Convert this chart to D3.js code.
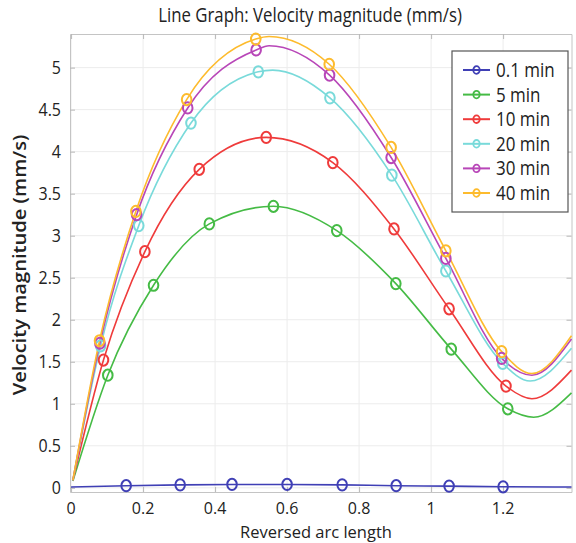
<!DOCTYPE html>
<html>
<head>
<meta charset="utf-8">
<script src="https://cdn.jsdelivr.net/npm/d3@7"></script>
<style>
  body { margin: 0; background: #fff; }
  svg { display: block; font-family: "Open Sans", sans-serif; }
</style>
</head>
<body>
<svg id="chart" width="576" height="543"></svg>
<script>
var seriesNames = ["0.1 min", "5 min", "10 min", "20 min", "30 min", "40 min"];
var seriesColors = ["#3f3fb5", "#45bb45", "#ef3b3b", "#79dada", "#b846b8", "#fdbb2d"];

// marked points per series [x, y]
var marks01 = [[0.153,0.025],[0.303,0.035],[0.447,0.04],[0.6,0.04],[0.753,0.035],[0.903,0.025],[1.05,0.02],[1.2,0.012]];
var marks05 = [[0.102,1.34],[0.229,2.41],[0.384,3.14],[0.562,3.35],[0.738,3.06],[0.902,2.43],[1.056,1.65],[1.213,0.94]];
var marks10 = [[0.09,1.52],[0.205,2.81],[0.356,3.79],[0.542,4.17],[0.727,3.87],[0.897,3.08],[1.05,2.13],[1.208,1.21]];
var marks20 = [[0.082,1.69],[0.188,3.12],[0.333,4.34],[0.52,4.95],[0.719,4.64],[0.891,3.72],[1.041,2.58],[1.199,1.48]];
var marks30 = [[0.08,1.72],[0.182,3.25],[0.324,4.52],[0.514,5.21],[0.718,4.91],[0.889,3.93],[1.041,2.73],[1.196,1.54]];
var marks40 = [[0.079,1.75],[0.18,3.29],[0.321,4.62],[0.513,5.34],[0.717,5.04],[0.889,4.05],[1.041,2.82],[1.196,1.62]];

// extra unmarked points on each curve (start, peak, minimum, end)
var extra01 = [[0,0.01],[1.39,0.01]];
var extra05 = [[0.005,0.08],[1.285,0.84],[1.39,1.13]];
var extra10 = [[0.005,0.09],[1.28,1.06],[1.39,1.40]];
var extra20 = [[0.005,0.09],[0.56,4.97],[1.275,1.27],[1.39,1.66]];
var extra30 = [[0.005,0.09],[0.55,5.26],[1.28,1.34],[1.39,1.77]];
var extra40 = [[0.005,0.09],[0.55,5.37],[1.28,1.36],[1.39,1.81]];

var allMarks = [marks01, marks05, marks10, marks20, marks30, marks40];
var allExtra = [extra01, extra05, extra10, extra20, extra30, extra40];

var xTicks = [0, 0.2, 0.4, 0.6, 0.8, 1, 1.2];
var yTicks = [0, 0.5, 1, 1.5, 2, 2.5, 3, 3.5, 4, 4.5, 5];

var svg = d3.select("#chart");
var stretch = "scale(1,1.15)"; // source image is a bit taller than wide

var x = d3.scaleLinear().domain([-0.003, 1.39]).range([70, 571.5]);
var y = d3.scaleLinear().domain([-0.05, 5.4]).range([492, 34]);

// grid
var grid = svg.append("g");
grid.selectAll(".gx").data(xTicks).enter().append("line")
    .attr("x1", function(d) { return x(d); }).attr("x2", function(d) { return x(d); })
    .attr("y1", y.range()[0]).attr("y2", y.range()[1])
    .attr("stroke", "#ececec").attr("stroke-width", 1);
grid.selectAll(".gy").data(yTicks).enter().append("line")
    .attr("x1", x.range()[0]).attr("x2", x.range()[1])
    .attr("y1", function(d) { return y(d); }).attr("y2", function(d) { return y(d); })
    .attr("stroke", "#ececec").attr("stroke-width", 1);

// frame + inward ticks, labels drawn separately
var gx = svg.append("g").attr("transform", "translate(0," + y.range()[0] + ")")
    .call(d3.axisBottom(x).tickValues(xTicks).tickFormat("").tickSizeInner(-5).tickSizeOuter(0));
var gxTop = svg.append("g").attr("transform", "translate(0," + y.range()[1] + ")")
    .call(d3.axisTop(x).tickValues(xTicks).tickFormat("").tickSizeInner(-5).tickSizeOuter(0));
var gy = svg.append("g").attr("transform", "translate(" + x.range()[0] + ",0)")
    .call(d3.axisLeft(y).tickValues(yTicks).tickFormat("").tickSizeInner(-5).tickSizeOuter(0));
var gyR = svg.append("g").attr("transform", "translate(" + x.range()[1] + ",0)")
    .call(d3.axisRight(y).tickValues(yTicks).tickFormat("").tickSizeInner(-5).tickSizeOuter(0));

[gx, gxTop, gy, gyR].forEach(function(g) {
  g.select(".domain").attr("stroke", "#c4c4c4");
  g.selectAll(".tick line").attr("stroke", "#b8b8b8");
});

svg.append("g").selectAll("text").data(xTicks).enter().append("text")
    .attr("x", function(d) { return x(d); }).attr("y", 508.5)
    .attr("text-anchor", "middle").attr("dy", "0.36em")
    .attr("font-size", 16).attr("fill", "#222")
    .text(function(d) { return String(d); });
svg.append("g").selectAll("text").data(yTicks).enter().append("text")
    .attr("transform", function(d) { return "translate(61," + y(d) + ") " + stretch; })
    .attr("text-anchor", "end").attr("dy", "0.36em")
    .attr("font-size", 16).attr("fill", "#222")
    .text(function(d) { return String(d); });

// lines + markers
var line = d3.line()
    .x(function(d) { return x(d[0]); })
    .y(function(d) { return y(d[1]); })
    .curve(d3.curveMonotoneX);

allMarks.forEach(function(marks, i) {
  var pts = marks.concat(allExtra[i]).sort(function(a, b) { return a[0] - b[0]; });
  svg.append("path").datum(pts)
      .attr("d", line)
      .attr("fill", "none")
      .attr("stroke", seriesColors[i])
      .attr("stroke-width", 1.6);
});
allMarks.forEach(function(marks, i) {
  svg.append("g").selectAll("ellipse").data(marks).enter().append("ellipse")
      .attr("cx", function(d) { return x(d[0]); })
      .attr("cy", function(d) { return y(d[1]); })
      .attr("rx", 4.8).attr("ry", 5.6)
      .attr("fill", "none")
      .attr("stroke", seriesColors[i])
      .attr("stroke-width", 2);
});

// legend
var legend = svg.append("g").attr("transform", "translate(452,51)");
legend.append("rect").attr("width", 116).attr("height", 161)
    .attr("fill", "#fff").attr("stroke", "#555").attr("stroke-width", 1.2);
var item = legend.selectAll(".item").data(seriesNames).enter().append("g")
    .attr("transform", function(d, i) { return "translate(0," + (19 + i * 24.6) + ")"; });
item.append("line").attr("x1", 11).attr("x2", 38)
    .attr("stroke", function(d, i) { return seriesColors[i]; }).attr("stroke-width", 2);
item.append("ellipse").attr("cx", 24.5).attr("rx", 3.2).attr("ry", 3.8).attr("fill", "none")
    .attr("stroke", function(d, i) { return seriesColors[i]; }).attr("stroke-width", 1.8);
item.append("text").attr("transform", "translate(44,0) " + stretch).attr("dy", "0.36em")
    .attr("font-size", 17).attr("fill", "#222").text(function(d) { return d; });

// titles
svg.append("text").attr("transform", "translate(310,15) " + stretch)
    .attr("text-anchor", "middle").attr("dy", "0.36em")
    .attr("font-size", 16.8).attr("fill", "#222").text("Line Graph: Velocity magnitude (mm/s)");
svg.append("text").attr("x", 316).attr("y", 537.5)
    .attr("text-anchor", "middle")
    .attr("font-size", 16.5).attr("fill", "#222").text("Reversed arc length");
svg.append("text").attr("transform", "translate(20,265) " + stretch + " rotate(-90)")
    .attr("text-anchor", "middle").attr("dy", "0.36em")
    .attr("font-size", 17.5).attr("font-weight", 600).attr("fill", "#222")
    .text("Velocity magnitude (mm/s)");
</script>
</body>
</html>
